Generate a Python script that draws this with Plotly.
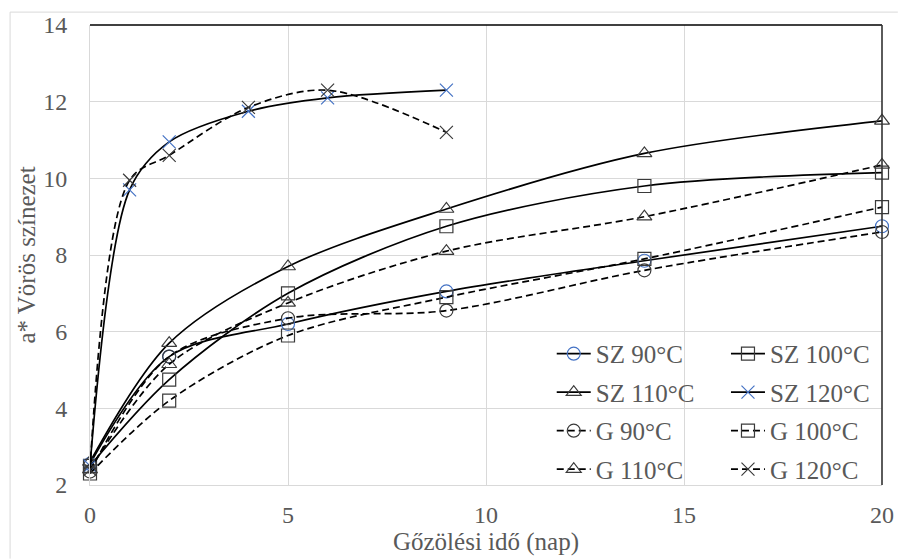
import plotly.graph_objects as go

# Steaming time (days) and a* redness values
days = [0, 2, 5, 9, 14, 20]
days_120 = [0, 1, 2, 4, 6, 9]

sz_90 = [2.55, 5.35, 6.2, 7.05, 7.85, 8.75]
sz_100 = [2.5, 4.75, 7.0, 8.75, 9.8, 10.15]
sz_110 = [2.6, 5.7, 7.7, 9.2, 10.65, 11.5]
sz_120 = [2.5, 9.7, 10.95, 11.75, 12.1, 12.3]
g_90 = [2.35, 5.35, 6.35, 6.55, 7.6, 8.6]
g_100 = [2.3, 4.2, 5.9, 6.9, 7.9, 9.25]
g_110 = [2.4, 5.15, 6.75, 8.1, 9.0, 10.35]
g_120 = [2.4, 9.95, 10.6, 11.85, 12.3, 11.2]

x_ticks = [0, 5, 10, 15, 20]
y_ticks = [2, 4, 6, 8, 10, 12, 14]

FONT = "Liberation Serif"
GREY = "#595959"
BLUE = "#4472C4"
DARK = "#3a3a3a"

series = [
    # name, x, y, dash, symbol, marker colour, legend column
    ("SZ 90°C", days, sz_90, "solid", "circle-open", BLUE, "legend"),
    ("SZ 100°C", days, sz_100, "solid", "square-open", DARK, "legend2"),
    ("SZ 110°C", days, sz_110, "solid", "triangle-up-open", DARK, "legend"),
    ("SZ 120°C", days_120, sz_120, "solid", "x-thin-open", BLUE, "legend2"),
    ("G 90°C", days, g_90, "dash", "circle-open", DARK, "legend"),
    ("G 100°C", days, g_100, "dash", "square-open", DARK, "legend2"),
    ("G 110°C", days, g_110, "dash", "triangle-up-open", DARK, "legend"),
    ("G 120°C", days_120, g_120, "dash", "x-thin-open", DARK, "legend2"),
]

fig = go.Figure()
for name, xs, ys, dash, symbol, mcol, leg in series:
    fig.add_trace(go.Scatter(
        x=xs, y=ys, name=name, mode="lines+markers",
        line=dict(color="black", width=1.7, dash="7px,4px" if dash == "dash" else "solid",
                  shape="spline", smoothing=0.9),
        marker=dict(symbol=symbol, size=13, color=mcol,
                    line=dict(color=mcol, width=1.2)),
        legend=leg, legendgroup=name, cliponaxis=False,
    ))

legend_style = dict(
    font=dict(family=FONT, size=25, color=GREY),
    bgcolor="rgba(0,0,0,0)", borderwidth=0,
    itemwidth=34, tracegroupgap=3, traceorder="grouped",
    xanchor="left", yanchor="top",
)

fig.update_layout(
    width=906, height=559,
    margin=dict(l=90, r=13, t=25, b=71),
    paper_bgcolor="white", plot_bgcolor="white",
    font=dict(family=FONT, color=GREY, size=24),
    legend=dict(x=0.583, y=0.335, **legend_style),
    legend2=dict(x=0.803, y=0.335, **legend_style),
    xaxis=dict(
        range=[0, 20], tickvals=x_ticks, ticks="",
        showgrid=True, gridcolor="#d9d9d9", gridwidth=1,
        showline=True, linecolor="#d9d9d9", linewidth=1,
        zeroline=False,
        tickfont=dict(family=FONT, size=24, color=GREY),
        ticklabelstandoff=8,
        title=dict(text="Gőzölési idő (nap)", font=dict(family=FONT, size=25, color=GREY),
                   standoff=2),
    ),
    yaxis=dict(
        range=[2, 14], tickvals=y_ticks, ticks="",
        showgrid=True, gridcolor="#d9d9d9", gridwidth=1,
        showline=True, linecolor="#d9d9d9", linewidth=1,
        zeroline=False,
        tickfont=dict(family=FONT, size=24, color=GREY),
        ticklabelstandoff=17,
        title=dict(text="a* Vörös színezet", font=dict(family=FONT, size=25, color=GREY),
                   standoff=0),
    ),
)

# Plot-area frame: black top and right edges
fig.add_shape(type="line", xref="paper", yref="paper", x0=0, x1=1, y0=1, y1=1,
              line=dict(color="black", width=1.6), layer="above")
fig.add_shape(type="line", xref="paper", yref="paper", x0=1, x1=1, y0=0, y1=1,
              line=dict(color="#333333", width=1.6), layer="above")

# Outer chart-area border
fig.add_shape(type="line", xref="paper", yref="paper", x0=-0.1009, x1=1.02, y0=1.028, y1=1.028,
              line=dict(color="#d9d9d9", width=1))
fig.add_shape(type="line", xref="paper", yref="paper", x0=-0.1009, x1=-0.1009, y0=1.028, y1=-0.16,
              line=dict(color="#d9d9d9", width=1))

fig.write_html("out.html")
